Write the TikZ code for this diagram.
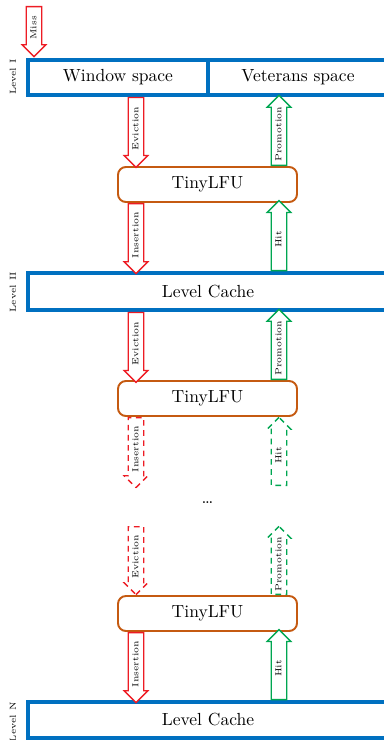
\documentclass[tikz,border=0pt]{standalone}
\usetikzlibrary{shapes.arrows}
\definecolor{cblue}{RGB}{0,112,192}
\definecolor{cred}{RGB}{237,28,36}
\definecolor{cgreen}{RGB}{0,166,81}
\definecolor{corange}{RGB}{197,90,17}
\newdimen\pxu \pxu=0.571pt
\begin{document}
\begin{tikzpicture}[x=0.571pt,y=-0.571pt,
  levelbox/.style={draw=cblue, line width=2pt, minimum height=35\pxu, inner sep=0pt},
  tinybox/.style={draw=corange, line width=1.1pt, rounded corners=4.5pt, minimum width=179\pxu, minimum height=35\pxu, inner sep=0pt},
  fatarrow/.style={single arrow, draw, fill=white, line width=0.75pt, rotate=90,
     font=\tiny, text height=3.6pt, text depth=0.9pt, inner ysep=1.75pt, inner xsep=0pt,
     single arrow head extend=2.4pt, single arrow tip angle=90, anchor=tail},
  downarr/.style={fatarrow, draw=cred, shape border rotate=180},
  uparr/.style={fatarrow, draw=cgreen, shape border rotate=0},
  dashedarr/.style={dash pattern=on 3.2pt off 2.6pt},
  lvl/.style={rotate=90, font=\tiny, inner sep=0pt}
]
\useasboundingbox (0,0) rectangle (383,740);
\coordinate (mx) at (34,0);
\coordinate (rx) at (136,0);
\coordinate (gx) at (279,0);

% Level I
\node[levelbox, minimum width=180\pxu] (win) at (118,77.5) {Window space};
\node[levelbox, minimum width=180\pxu] (vet) at (298,77.5) {Veterans space};
\node[lvl] (l1) at (13,77) {Level I};

% TinyLFU nodes
\node[tinybox] (tl1) at (207.5,184.5) {TinyLFU};
\node[tinybox] (tl2) at (207.5,398.5) {TinyLFU};
\node[tinybox] (tl3) at (207.5,613.5) {TinyLFU};

% Level II
\node[levelbox, minimum width=360\pxu, minimum height=37\pxu] (lc2) at (208,291.5) {Level Cache};
\node[lvl] (l2) at (13,292) {Level II};

% Level N
\node[levelbox, minimum width=360\pxu, minimum height=36\pxu] (lcn) at (208,720) {Level Cache};
\node[lvl] (ln) at (13,722) {Level N};

\node (dots) at (207.5,503) {\dots};

\coordinate (misstop) at (34,6);
\coordinate (d2bot) at (136,487);
\coordinate (h2bot) at (279,486);
\coordinate (e3top) at (136,526);
\coordinate (p3top) at (279,526);

% arrows (anchored at their tails)
\node[downarr, minimum height=50\pxu] (miss) at (misstop) {Miss};

\node[downarr, minimum height=70\pxu] (ev1) at (win.south -| rx) {Eviction};
\node[uparr, minimum height=70\pxu] (pr1) at (tl1.north -| gx) {Promotion};
\node[downarr, minimum height=70\pxu] (in1) at (tl1.south -| rx) {Insertion};
\node[uparr, minimum height=70\pxu] (hit1) at (lc2.north -| gx) {Hit};

\node[downarr, minimum height=70\pxu] (ev2) at (lc2.south -| rx) {Eviction};
\node[uparr, minimum height=70\pxu] (pr2) at (tl2.north -| gx) {Promotion};
\node[downarr, dashedarr, minimum height=70\pxu] (in2) at (tl2.south -| rx) {Insertion};
\node[uparr, dashedarr, minimum height=68\pxu] (hit2) at (h2bot) {Hit};

\node[downarr, dashedarr, minimum height=68\pxu] (ev3) at (e3top) {Eviction};
\node[uparr, dashedarr, minimum height=68\pxu] (pr3) at (tl3.north -| gx) {Promotion};
\node[downarr, minimum height=70\pxu] (in3) at (tl3.south -| rx) {Insertion};
\node[uparr, minimum height=70\pxu] (hit3) at (lcn.north -| gx) {Hit};
\end{tikzpicture}
\end{document}
